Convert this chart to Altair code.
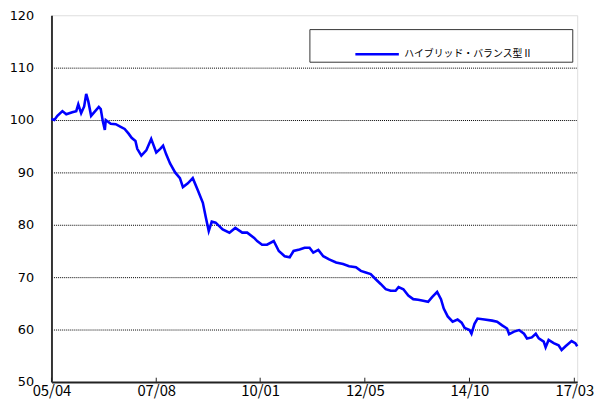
import altair as alt
import pandas as pd

series_name = "ハイブリッド・バランス型Ⅱ"

dates = [
    "2005-04-01", "2005-04-25", "2005-05-20", "2005-07-01", "2005-08-02", "2005-08-27",
    "2005-09-21", "2005-10-24", "2005-11-10", "2005-12-04", "2005-12-29",
    "2006-01-15", "2006-02-01", "2006-02-25", "2006-03-20", "2006-04-30", "2006-05-16",
    "2006-06-02", "2006-06-19", "2006-06-27", "2006-08-07", "2006-09-18", "2006-10-29", "2006-12-01",
    "2007-01-03", "2007-01-28", "2007-03-01", "2007-03-16", "2007-04-19", "2007-05-30",
    "2007-07-10", "2007-08-21", "2007-09-23", "2007-10-17", "2007-11-11", "2007-12-14",
    "2008-01-25", "2008-03-05", "2008-03-30", "2008-05-10", "2008-06-20", "2008-08-01",
    "2008-09-12", "2008-10-06", "2008-10-31", "2008-11-25", "2008-12-27",
    "2009-02-24", "2009-04-21", "2009-06-09", "2009-08-06", "2009-09-16", "2009-11-13", "2009-12-08",
    "2010-01-18", "2010-02-28", "2010-04-25", "2010-06-06", "2010-07-25", "2010-09-05",
    "2010-10-07", "2010-11-26",
    "2011-01-07", "2011-02-17", "2011-03-20", "2011-05-01", "2011-06-11", "2011-07-30",
    "2011-09-26", "2011-11-23",
    "2012-01-12", "2012-03-09", "2012-04-19", "2012-05-30", "2012-07-10", "2012-08-21",
    "2012-10-01", "2012-11-12", "2012-12-23",
    "2013-02-02", "2013-02-27", "2013-04-08", "2013-05-19", "2013-06-29", "2013-08-09",
    "2013-09-20", "2013-10-31", "2013-12-03",
    "2014-01-14", "2014-02-15", "2014-03-10", "2014-04-12", "2014-05-23", "2014-07-03",
    "2014-08-06", "2014-08-31", "2014-10-11", "2014-10-27", "2014-11-21", "2014-12-16",
    "2015-02-12", "2015-04-17", "2015-05-28", "2015-07-09", "2015-08-19", "2015-09-05",
    "2015-10-16", "2015-11-27",
    "2016-01-07", "2016-02-01", "2016-03-12", "2016-04-14", "2016-05-09", "2016-06-19",
    "2016-07-05", "2016-07-30", "2016-09-10", "2016-10-21", "2016-11-15", "2016-12-18",
    "2017-02-06", "2017-03-09", "2017-03-25",
]

values = [
    100.2, 100.0, 100.8, 101.7, 101.1, 101.3, 101.5, 101.7, 103.0, 101.3, 102.6,
    105.0, 103.6, 100.8, 101.4, 102.5, 102.1, 99.8, 98.1, 100.0, 99.3, 99.2, 98.7, 98.3,
    97.4, 96.6, 96.0, 94.5, 93.2, 94.2, 96.4, 93.8, 94.5, 95.1, 93.5, 91.7,
    90.0, 88.9, 87.2, 87.9, 88.9, 86.6, 84.2, 81.5, 78.8, 80.6, 80.4,
    79.1, 78.5, 79.4, 78.5, 78.5, 77.5, 76.9,
    76.2, 76.2, 76.9, 75.0, 74.0, 73.8, 75.0, 75.3,
    75.6, 75.6, 74.7, 75.2, 74.0, 73.4, 72.8, 72.5,
    72.1, 71.9, 71.2, 70.9, 70.6, 69.6, 68.7, 67.7, 67.4,
    67.4, 68.1, 67.7, 66.5, 65.8, 65.7, 65.5, 65.3, 66.2,
    67.2, 65.8, 64.0, 62.5, 61.5, 61.9, 61.3, 60.3, 59.9, 59.2, 61.1, 62.1,
    61.9, 61.7, 61.5, 60.8, 60.2, 59.1, 59.6, 59.9,
    59.2, 58.3, 58.5, 59.2, 58.3, 57.7, 56.6, 58.0, 57.4, 57.0, 56.1, 56.8,
    57.8, 57.4, 56.8,
]

assert len(dates) == len(values), (len(dates), len(values))

# x-axis tick positions (labels 05/04, 07/08, 10/01, 12/05, 14/10, 17/03)
tick_dates = [(2005, 4, 1), (2007, 8, 21), (2010, 1, 2), (2012, 5, 22), (2014, 10, 10), (2017, 3, 1)]
tick_strings = ["%04d-%02d-%02d" % t for t in tick_dates]
y_ticks = [50, 60, 70, 80, 90, 100, 110, 120]

df = pd.DataFrame({"date": dates, "value": values, "series": series_name})
ticks_df = pd.DataFrame({"date": tick_strings, "y0": 50.0, "y1": 50.8})

x_scale = alt.Scale(
    type="utc",
    domain=[alt.DateTime(year=2005, month=4, date=1, utc=True),
            alt.DateTime(year=2017, month=3, date=25, utc=True)],
)
y_scale = alt.Scale(domain=[50, 120], nice=False, zero=False)

x_axis = alt.Axis(
    title=None,
    values=[alt.DateTime(year=y, month=m, date=d, utc=True) for (y, m, d) in tick_dates],
    format="%y/%m",
    ticks=False,
    grid=False,
    domainColor="#222222",
    domainWidth=2,
    labelFont="Noto Sans CJK JP",
    labelFontSize=15,
    labelColor="#000000",
    labelPadding=2,
    labelOverlap=False,
    labelFlush=False,
    labelBound=False,
)
y_axis = alt.Axis(
    title=None,
    values=y_ticks,
    ticks=False,
    grid=True,
    gridColor="#000000",
    gridDash=[1, 1],
    gridWidth=1,
    gridOpacity={"condition": {"test": "datum.value == 120 || datum.value == 50", "value": 0}, "value": 1},
    domainColor="#333333",
    domainWidth=2,
    labelFont="DejaVu Sans",
    labelFontSize=13,
    labelColor="#000000",
    labelPadding=18,
)

line = alt.Chart(df).mark_line(strokeWidth=2.6, interpolate="linear").encode(
    x=alt.X("date:T", scale=x_scale, axis=x_axis),
    y=alt.Y("value:Q", scale=y_scale, axis=y_axis),
    color=alt.Color(
        "series:N",
        scale=alt.Scale(domain=[series_name], range=["#0000FF"]),
        legend=alt.Legend(
            title=" ",
            titleOrient="right",
            titlePadding=38,
            titleFontSize=10,
            orient="none",
            legendX=261,
            legendY=14,
            fillColor="#FFFFFF",
            strokeColor="#333333",
            padding=2,
            symbolType="stroke",
            symbolSize=1936,
            symbolStrokeWidth=2.5,
            symbolOffset=43,
            labelOffset=4,
            labelFont="Noto Sans CJK JP",
            labelFontSize=10,
            labelColor="#000000",
        ),
    ),
)

tick_marks = alt.Chart(ticks_df).mark_rule(color="#222222", strokeWidth=1).encode(
    x=alt.X("date:T", scale=x_scale),
    y=alt.Y("y0:Q", scale=y_scale),
    y2="y1:Q",
)

chart = alt.layer(line, tick_marks).properties(
    width=532,
    height=371,
    autosize=alt.AutoSizeParams(type="none"),
    padding={"left": 44, "top": 5, "right": 19, "bottom": 20},
).configure_view(
    stroke="#888888",
    strokeWidth=2,
).configure(background="#FFFFFF")

chart.save("out.html", embed_options={"renderer": "svg", "actions": False})
